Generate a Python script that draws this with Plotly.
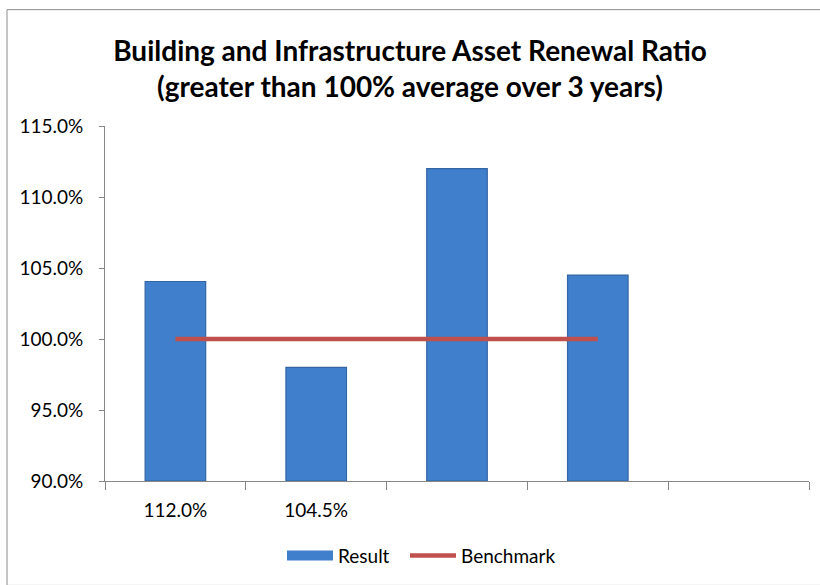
import plotly.graph_objects as go

categories = ["112.0%", "104.5%", " ", "  ", "   "]
result = [104.05, 98.0, 112.0, 104.5, None]
benchmark = [100.0, 100.0, 100.0, 100.0, None]
y_ticks = [90, 95, 100, 105, 110, 115]
y_ticktext = ["90.0%", "95.0%", "100.0%", "105.0%", "110.0%", "115.0%"]

W, H = 820, 585
L, R, T, B = 105, 11, 126, 102
pw, ph = W - L - R, H - T - B

def px_x(x):
    return (x - L) / pw

def px_y(y):
    return (H - B - y) / ph

FONT = "Lato"
BAR = "#3F7FCB"
fig = go.Figure()
fig.add_trace(go.Bar(
    x=categories, y=[v - 90 if v is not None else None for v in result], base=90,
    marker=dict(color=BAR, line=dict(color="#3465A4", width=1.2)),
    width=0.43, showlegend=False, name="Result",
))
# legend proxy for the bar series
fig.add_trace(go.Scatter(
    x=[categories[0]], y=[None], mode="lines", name="Result",
    line=dict(color=BAR, width=15), legend="legend",
))
fig.add_trace(go.Scatter(
    x=categories, y=benchmark, mode="lines", name="Benchmark",
    line=dict(color="#C0504D", width=4.5), legend="legend2",
))

leg_common = dict(orientation="h", yanchor="middle", xanchor="left",
                  font=dict(size=19), itemwidth=46, bgcolor="rgba(0,0,0,0)")

fig.update_layout(
    width=W, height=H,
    margin=dict(l=L, r=R, t=T, b=B),
    paper_bgcolor="white", plot_bgcolor="white",
    font=dict(family=FONT, size=19, color="black"),
    title=dict(
        text="<b>Building and Infrastructure Asset Renewal Ratio<br>(greater than 100% average over 3 years)</b>",
        x=0.5, xref="container", xanchor="center",
        y=1 - 61 / H, yanchor="middle",
        font=dict(family=FONT, size=28, color="black"),
    ),
    xaxis=dict(
        type="category", categoryorder="array", categoryarray=categories,
        showline=True, linecolor="#868686", linewidth=1,
        ticks="outside", tickson="boundaries", ticklen=8, tickcolor="#868686",
        showgrid=False, zeroline=False, range=[-0.5, 4.5],
        tickfont=dict(size=19), ticklabelstandoff=12,
    ),
    yaxis=dict(
        range=[90, 115], tickvals=y_ticks, ticktext=y_ticktext,
        showline=True, linecolor="#868686", linewidth=1,
        ticks="outside", ticklen=5, tickcolor="#868686",
        showgrid=False, zeroline=False,
        tickfont=dict(size=19), ticklabelstandoff=12,
    ),
    legend=dict(x=px_x(282), y=px_y(558), **leg_common),
    legend2=dict(x=px_x(405), y=px_y(558), **leg_common),
    bargap=0.57,
    shapes=[dict(
        type="rect", xref="paper", yref="paper",
        x0=px_x(7), x1=px_x(822), y0=px_y(588), y1=px_y(9),
        line=dict(color="#8C8C8C", width=1), fillcolor="rgba(0,0,0,0)", layer="below",
    )],
)

fig.write_html("out.html", config={"displayModeBar": False},
               post_script="document.body.style.margin='0';")
